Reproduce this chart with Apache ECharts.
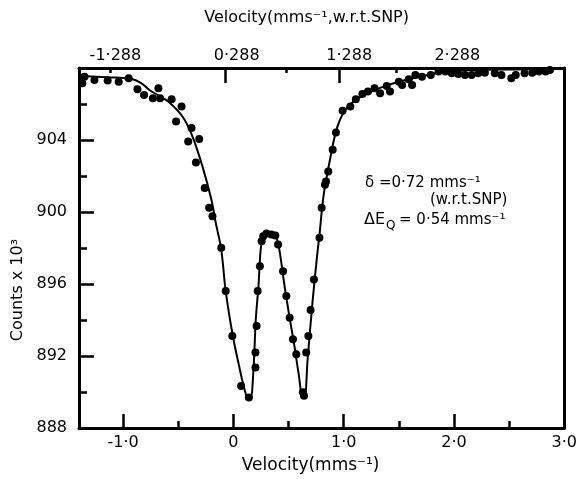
<!DOCTYPE html>
<html><head><meta charset="utf-8">
<script src="https://cdn.jsdelivr.net/npm/echarts@6/dist/echarts.min.js"></script>
<style>html,body{margin:0;padding:0;background:#fff}#c{width:580px;height:479px}</style>
</head><body><div id="c"></div>
<script>
// ---- data ----
const velocityPts = [-1.37,-1.35,-1.26,-1.14,-1.04,-0.95,-0.87,-0.81,-0.73,-0.68,-0.665,-0.56,-0.47,-0.52,-0.38,-0.41,-0.31,-0.34,-0.26,-0.22,-0.19,-0.11,-0.07,-0.01,0.07,0.14,0.2,0.2,0.21,0.22,0.24,0.256,0.27,0.3,0.345,0.38,0.405,0.45,0.48,0.51,0.54,0.57,0.63,0.64,0.66,0.68,0.7,0.73,0.78,0.8,0.83,0.84,0.86,0.9,0.93,0.99,1.06,1.11,1.17,1.22,1.28,1.33,1.39,1.42,1.5,1.53,1.59,1.62,1.65,1.71,1.79,1.86,1.92,1.98,2.04,2.1,2.16,2.22,2.28,2.37,2.43,2.52,2.56,2.64,2.71,2.77,2.83,2.87];
const countsPts = [907.15,907.52,907.34,907.30,907.24,907.43,906.82,906.50,906.32,906.88,906.32,906.27,905.86,905.03,904.66,903.92,904.05,902.75,901.34,900.23,899.76,898.01,895.61,893.11,890.34,889.70,891.36,892.19,893.67,895.61,896.99,898.38,898.65,898.80,898.75,898.69,898.19,896.71,895.33,894.13,892.93,892.10,889.98,889.79,892.19,893.11,894.55,896.25,898.57,900.23,901.52,901.70,902.25,903.46,904.42,905.63,905.86,906.27,906.56,906.69,906.88,906.60,907.00,906.69,907.24,907.06,907.37,907.06,907.61,907.52,907.61,907.80,907.80,907.71,907.67,907.61,907.61,907.71,907.74,907.71,907.61,907.43,907.61,907.71,907.74,907.80,907.80,907.89];
const curveVelocity = [-1.40,-1.2,-1.07,-0.93,-0.84,-0.755,-0.665,-0.576,-0.46,-0.37,-0.28,-0.2,-0.16,-0.11,-0.07,-0.005,0.048,0.093,0.137,0.155,0.182,0.203,0.227,0.245,0.262,0.298,0.334,0.369,0.405,0.464,0.509,0.553,0.592,0.628,0.646,0.673,0.717,0.762,0.78,0.815,0.866,0.941,1.03,1.178,1.324,1.475,1.624,1.803,1.922,2.216,2.546,3.0];
const curveCounts = [907.56,907.5,907.47,907.4,907.17,906.75,906.42,906.06,905.29,904.18,902.52,900.69,899.4,897.9,895.61,893.11,891.55,890.34,889.61,889.61,891.27,894.04,895.87,897.75,898.47,898.86,898.86,898.75,898.30,895.88,894.15,892.56,890.99,889.72,889.72,891.82,894.98,897.75,898.7,900.8,902.6,904.7,905.8,906.50,906.88,907.19,907.43,907.67,907.80,907.89,907.92,907.95];

const bottomTickValues = [-1, 0, 1, 2, 3];
const bottomTickLabels = ['-1·0', '0', '1·0', '2·0', '3·0'];
const bottomMinorTicks = [-0.5, 0.5, 1.5, 2.5];
const topLabelValues = [-1.07, 0.03, 1.05, 2.03];
const topTickLabels = ['-1·288', '0·288', '1·288', '2·288'];
const topMajorTicks = [-0.07, 0.96];
const topMinorTicks = [-1.12, 0.48, 1.48];

const FONT = '"DejaVu Sans", sans-serif';
const INK = '#000';

const chart = echarts.init(document.getElementById('c'), null, {renderer: 'canvas'});
const pts = velocityPts.map((v, i) => [v, countsPts[i]]);
const curve = curveVelocity.map((v, i) => [v, curveCounts[i]]);

const xBase = {type: 'value', min: -1.40, max: 3.0, splitLine: {show: false}};
const line3 = {show: true, onZero: false, lineStyle: {color: INK, width: 3}};

chart.setOption({
  animation: false,
  backgroundColor: '#fff',
  grid: {left: 79, right: 9, top: 68, bottom: 51},
  xAxis: [
    Object.assign({}, xBase, {
      position: 'bottom',
      axisLine: line3,
      axisTick: {show: true, inside: true, length: 14, customValues: bottomTickValues, lineStyle: {color: INK, width: 2.5}},
      axisLabel: {show: true, customValues: bottomTickValues, margin: 7, color: INK, fontFamily: FONT, fontSize: 16,
        formatter: v => bottomTickLabels[bottomTickValues.indexOf(v)] || ''},
      name: 'Velocity(mms⁻¹)', nameLocation: 'middle', nameGap: 29,
      nameTextStyle: {color: INK, fontFamily: FONT, fontSize: 17, padding: [0, 22, 0, 0]}
    }),
    Object.assign({}, xBase, {
      position: 'bottom',
      axisLine: {show: false},
      axisTick: {show: true, inside: true, length: 7, customValues: bottomMinorTicks, lineStyle: {color: INK, width: 2.5}},
      axisLabel: {show: false}
    }),
    Object.assign({}, xBase, {
      position: 'top',
      axisLine: line3,
      axisTick: {show: true, inside: true, length: 15, customValues: topMajorTicks, lineStyle: {color: INK, width: 2.5}},
      axisLabel: {show: true, customValues: topLabelValues, margin: 4, color: INK, fontFamily: FONT, fontSize: 16,
        formatter: v => topTickLabels[topLabelValues.indexOf(v)] || ''},
      name: 'Velocity(mms⁻¹,w.r.t.SNP)', nameLocation: 'middle', nameGap: 42,
      nameTextStyle: {color: INK, fontFamily: FONT, fontSize: 16, padding: [0, 30, 0, 0]}
    }),
    Object.assign({}, xBase, {
      position: 'top',
      axisLine: {show: false},
      axisTick: {show: true, inside: true, length: 5, customValues: topMinorTicks, lineStyle: {color: INK, width: 2.5}},
      axisLabel: {show: false}
    })
  ],
  yAxis: [
    {
      type: 'value', position: 'left', min: 888, max: 908, interval: 4,
      splitLine: {show: false},
      axisLine: line3,
      axisTick: {show: true, inside: true, length: 15, lineStyle: {color: INK, width: 2.5}},
      minorTick: {show: true, splitNumber: 2, length: 8, lineStyle: {color: INK, width: 2.5}},
      axisLabel: {margin: 12, color: INK, fontFamily: FONT, fontSize: 16, formatter: v => v >= 908 ? '' : String(v)},
      name: 'Counts x 10³', nameLocation: 'middle', nameGap: 42,
      nameTextStyle: {color: INK, fontFamily: FONT, fontSize: 16, padding: [0, 84, 0, 0]}
    },
    {
      type: 'value', position: 'right', min: 888, max: 908,
      splitLine: {show: false}, axisLine: line3, axisTick: {show: false}, axisLabel: {show: false}
    }
  ],
  graphic: [
    {type: 'text', left: 365, top: 176, style: {text: 'δ =0·72 mms⁻¹', fontFamily: FONT, fontSize: 15, fill: INK}},
    {type: 'text', left: 430, top: 193, style: {text: '(w.r.t.SNP)', fontFamily: FONT, fontSize: 15, fill: INK}},
    {type: 'text', left: 364, top: 212, style: {text: 'ΔE', fontFamily: FONT, fontSize: 16, fill: INK}},
    {type: 'text', left: 386, top: 220, style: {text: 'Q', fontFamily: FONT, fontSize: 12, fill: INK}},
    {type: 'text', left: 399, top: 213, style: {text: '= 0·54 mms⁻¹', fontFamily: FONT, fontSize: 15, fill: INK}}
  ],
  series: [
    {
      type: 'line', xAxisIndex: 0, yAxisIndex: 0, data: curve,
      showSymbol: false, smooth: 0.35, lineStyle: {color: INK, width: 2}, z: 3
    },
    {
      type: 'scatter', xAxisIndex: 0, yAxisIndex: 0, data: pts,
      symbol: 'circle', symbolSize: 8, itemStyle: {color: INK, opacity: 1}, clip: false, z: 4
    }
  ]
});
</script></body></html>
